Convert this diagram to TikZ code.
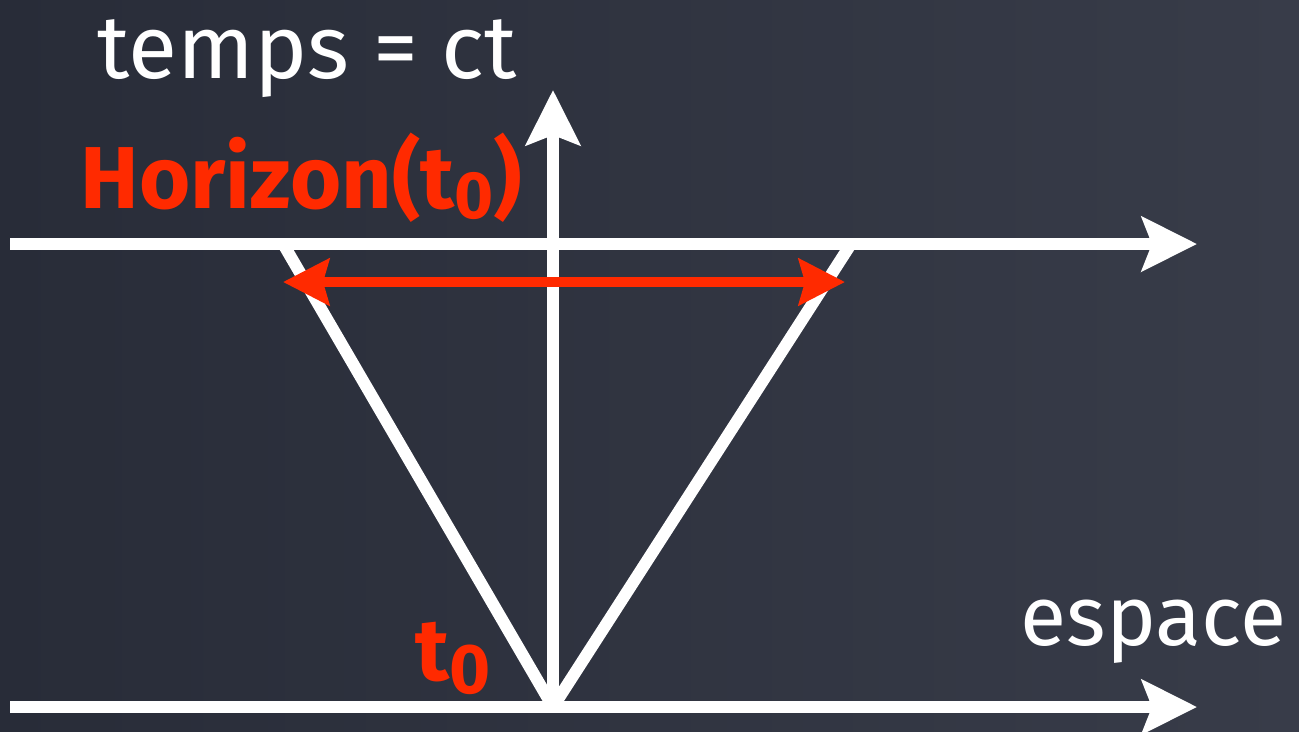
\documentclass[tikz,border=0pt]{standalone}
\usepackage{fontspec}
\setmainfont{Fira Sans}
\usepackage{tikz}
\usetikzlibrary{arrows.meta,positioning}
\definecolor{boardDark}{HTML}{282C38}
\definecolor{boardLight}{HTML}{383C49}
\definecolor{chalkRed}{HTML}{FF2A00}

\begin{document}
\begin{tikzpicture}[x=0.01cm,y=-0.01cm,
    axis/.style={draw=white,line width=0.12cm,
                 -{Stealth[length=0.55cm,width=0.54cm,inset=0.1cm]}},
    cone/.style={draw=white,line width=0.12cm},
    span/.style={draw=chalkRed,line width=0.1cm,
                 {Stealth[length=0.46cm,width=0.46cm,inset=0.06cm]}-{Stealth[length=0.46cm,width=0.46cm,inset=0.06cm]}},
    chalk/.style={text=white,font=\fontsize{25.5pt}{30pt}\selectfont,inner sep=0pt,anchor=base west},
    redchalk/.style={text=chalkRed,font=\fontsize{25pt}{30pt}\selectfont\bfseries,inner sep=0pt,anchor=base west}]

  \shade[left color=boardDark,right color=boardLight] (0,0) rectangle (1299,731);

  % axes
  \coordinate (x0) at (10,707);
  \coordinate (x1) at (1197,707);
  \coordinate (h0) at (10,244);
  \coordinate (h1) at (1197,244);
  \coordinate (apex) at (553,707);
  \coordinate (ttop) at (553,90);
  \coordinate (cl) at (285,247);
  \coordinate (cr) at (849,247);
  \coordinate (sl) at (283,282);
  \coordinate (sr) at (845,282);

  \draw[axis] (x0) -- (x1);
  \draw[axis] (h0) -- (h1);
  \draw[axis] (apex) -- (ttop);
  \draw[cone] (cl) -- (apex);
  \draw[cone] (cr) -- (apex);
  \draw[span] (sl) -- (sr);

  \node[chalk] (temps) at (97,78) {temps = ct};
  \node[chalk,font=\fontsize{24pt}{28pt}\selectfont] (espace) at (1020,645) {espace};
  \node[redchalk] (horizon) at (80,208) {Horizon(t\raisebox{-0.12em}{\fontsize{19pt}{19pt}\selectfont 0})};
  \node[redchalk] (tzero) at (415,680) {t\raisebox{-0.15em}{\fontsize{20pt}{20pt}\selectfont 0}};
\end{tikzpicture}
\end{document}
